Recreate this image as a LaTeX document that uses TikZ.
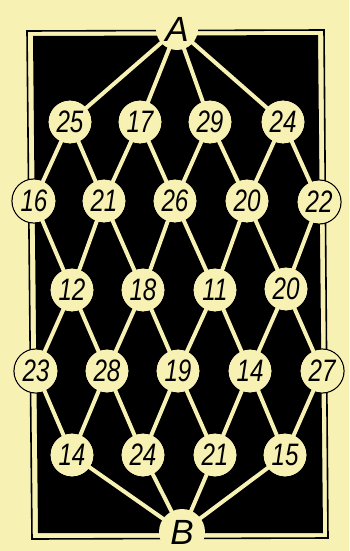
\documentclass[tikz,border=0pt]{standalone}
\usepackage{fontspec}
\newfontfamily\numfont[FakeStretch=0.78]{Liberation Sans}
\newfontfamily\termfont{Liberation Sans}
\usetikzlibrary{backgrounds}
\definecolor{bg}{RGB}{247,241,180}
\begin{document}
\begin{tikzpicture}[x=1pt,y=-1pt,
  road/.style={draw=bg,line width=4pt},
  num/.style={circle,fill=bg,minimum size=42.6pt,inner sep=0pt,
    font=\numfont\itshape\fontsize{31}{31}\selectfont},
  term/.style={inner sep=0pt,
    font=\termfont\itshape\fontsize{35}{35}\selectfont},
  ring/.style={draw=black,line width=1.2pt,fill=bg}]
\useasboundingbox (0,0) rectangle (349,551);
% terminals
\node[term] (A) at (177,29) {A};
\node[term] (B) at (182,532) {B};
% row 1
\node[num] (n25) at (70,122) {25};
\node[num] (n17) at (140,122) {17};
\node[num] (n29) at (210,122) {29};
\node[num] (n24) at (283,122) {24};
% row 2
\node[num] (n16) at (34,201) {16};
\node[num] (n21) at (104,201) {21};
\node[num] (n26) at (175,201) {26};
\node[num] (n20) at (247,201) {20};
\node[num] (n22) at (319,202) {22};
% row 3
\node[num] (n12) at (72,290) {12};
\node[num] (n18) at (143,290) {18};
\node[num] (n11) at (215,290) {11};
\node[num] (n20b) at (286,289) {20};
% row 4
\node[num] (n23) at (36,371) {23};
\node[num] (n28) at (107,371) {28};
\node[num] (n19) at (178,371) {19};
\node[num] (n14) at (250,371) {14};
\node[num] (n27) at (322,371) {27};
% row 5
\node[num] (n14b) at (72,455) {14};
\node[num] (n24b) at (143,455) {24};
\node[num] (n21b) at (215,455) {21};
\node[num] (n15) at (285,455) {15};
\begin{pgfonlayer}{background}
  \fill[bg] (0,0) rectangle (349,551);
  \draw[line width=1.6pt] (27,31) -- (324,30) -- (328,538) -- (32,539) -- cycle;
  \fill[black] (33,36) -- (318,35) -- (323,533) -- (38,533) -- cycle;
  \foreach \n in {n25,n17,n29,n24,n16,n21,n26,n20,n22,n12,n18,n11,n20b,
                  n23,n28,n19,n14,n27,n14b,n24b,n21b,n15}
    \draw[ring] (\n.center) circle (22pt);
  \foreach \a/\b in {A/n25,A/n17,A/n29,A/n24,
      n25/n16,n25/n21,n17/n21,n17/n26,n29/n26,n29/n20,n24/n20,n24/n22,
      n16/n12,n21/n12,n21/n18,n26/n18,n26/n11,n20/n11,n20/n20b,n22/n20b,
      n12/n23,n12/n28,n18/n28,n18/n19,n11/n19,n11/n14,n20b/n14,n20b/n27,
      n23/n14b,n28/n14b,n28/n24b,n19/n24b,n19/n21b,n14/n21b,n14/n15,n27/n15,
      n14b/B,n24b/B,n21b/B,n15/B}
    \draw[road] (\a.center) -- (\b.center);
  \fill[bg] (A.center) circle (21pt);
  \fill[bg] (B.center) circle (23pt);
\end{pgfonlayer}
\end{tikzpicture}
\end{document}
